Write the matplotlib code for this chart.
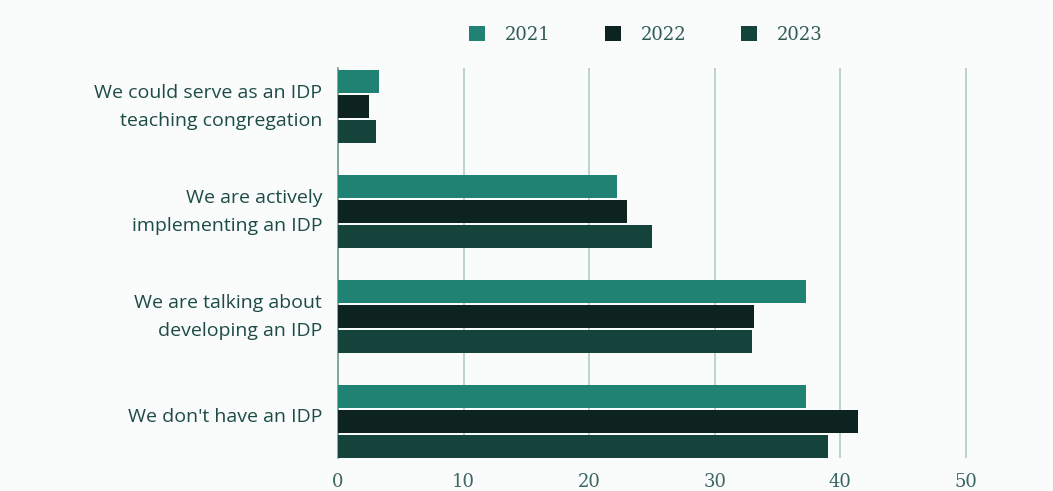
import numpy as np
import matplotlib.pyplot as plt
from matplotlib.patches import Patch

categories = ["We could serve as an IDP\nteaching congregation",
              "We are actively\nimplementing an IDP",
              "We are talking about\ndeveloping an IDP",
              "We don't have an IDP"]
years = ["2021", "2022", "2023"]
v2021 = [3.3, 22.2, 37.3, 37.3]
v2022 = [2.5, 23.0, 33.1, 41.4]
v2023 = [3.0, 25.0, 33.0, 39.0]
colors = ["#1f8272", "#0c231f", "#14443c"]

bg = "#f9fcfb"
fig = plt.figure(figsize=(10.53, 4.91), dpi=100, facecolor=bg)
ax = fig.add_axes([0.321, 0.067, 0.62, 0.795], facecolor=bg)

y = np.arange(len(categories))
h = 0.22
step = 0.238
for i, vals in enumerate([v2021, v2022, v2023]):
    ax.barh(y + (i - 1) * step, vals, height=h, color=colors[i], zorder=3)

ax.set_ylim(3.352, -0.371)
ax.set_xlim(0, 52)
ax.set_xticks([0, 10, 20, 30, 40, 50])
# labels sit a little above the group centre in the original
ax.set_yticks(y - 0.06)
ax.set_yticklabels(categories, fontsize=14, color="#1d4b45",
                   family="Open Sans", weight="medium", linespacing=1.7)
for lbl in ax.get_xticklabels():
    lbl.set_fontsize(13)
    lbl.set_color("#3b6660")
    lbl.set_family("DejaVu Serif")
ax.tick_params(length=0, pad=11)
ax.tick_params(axis="y", pad=11.5)
ax.grid(axis="x", color="#b2cdc6", linewidth=1.2, zorder=0)
for s in ["top", "right", "bottom"]:
    ax.spines[s].set_visible(False)
ax.spines["left"].set_color("#6f9c93")
ax.spines["left"].set_linewidth(1.2)

handles = [Patch(facecolor=c) for c in colors]
fig.legend(handles, years, loc="center", bbox_to_anchor=(0.613, 0.929),
           ncol=3, frameon=False, handlelength=0.9,
           handleheight=0.9, columnspacing=3.0, handletextpad=1.1,
           labelcolor="#2e5a54", prop={"family": "DejaVu Serif", "size": 13})

fig.savefig("out.png", dpi=100, facecolor=bg)
